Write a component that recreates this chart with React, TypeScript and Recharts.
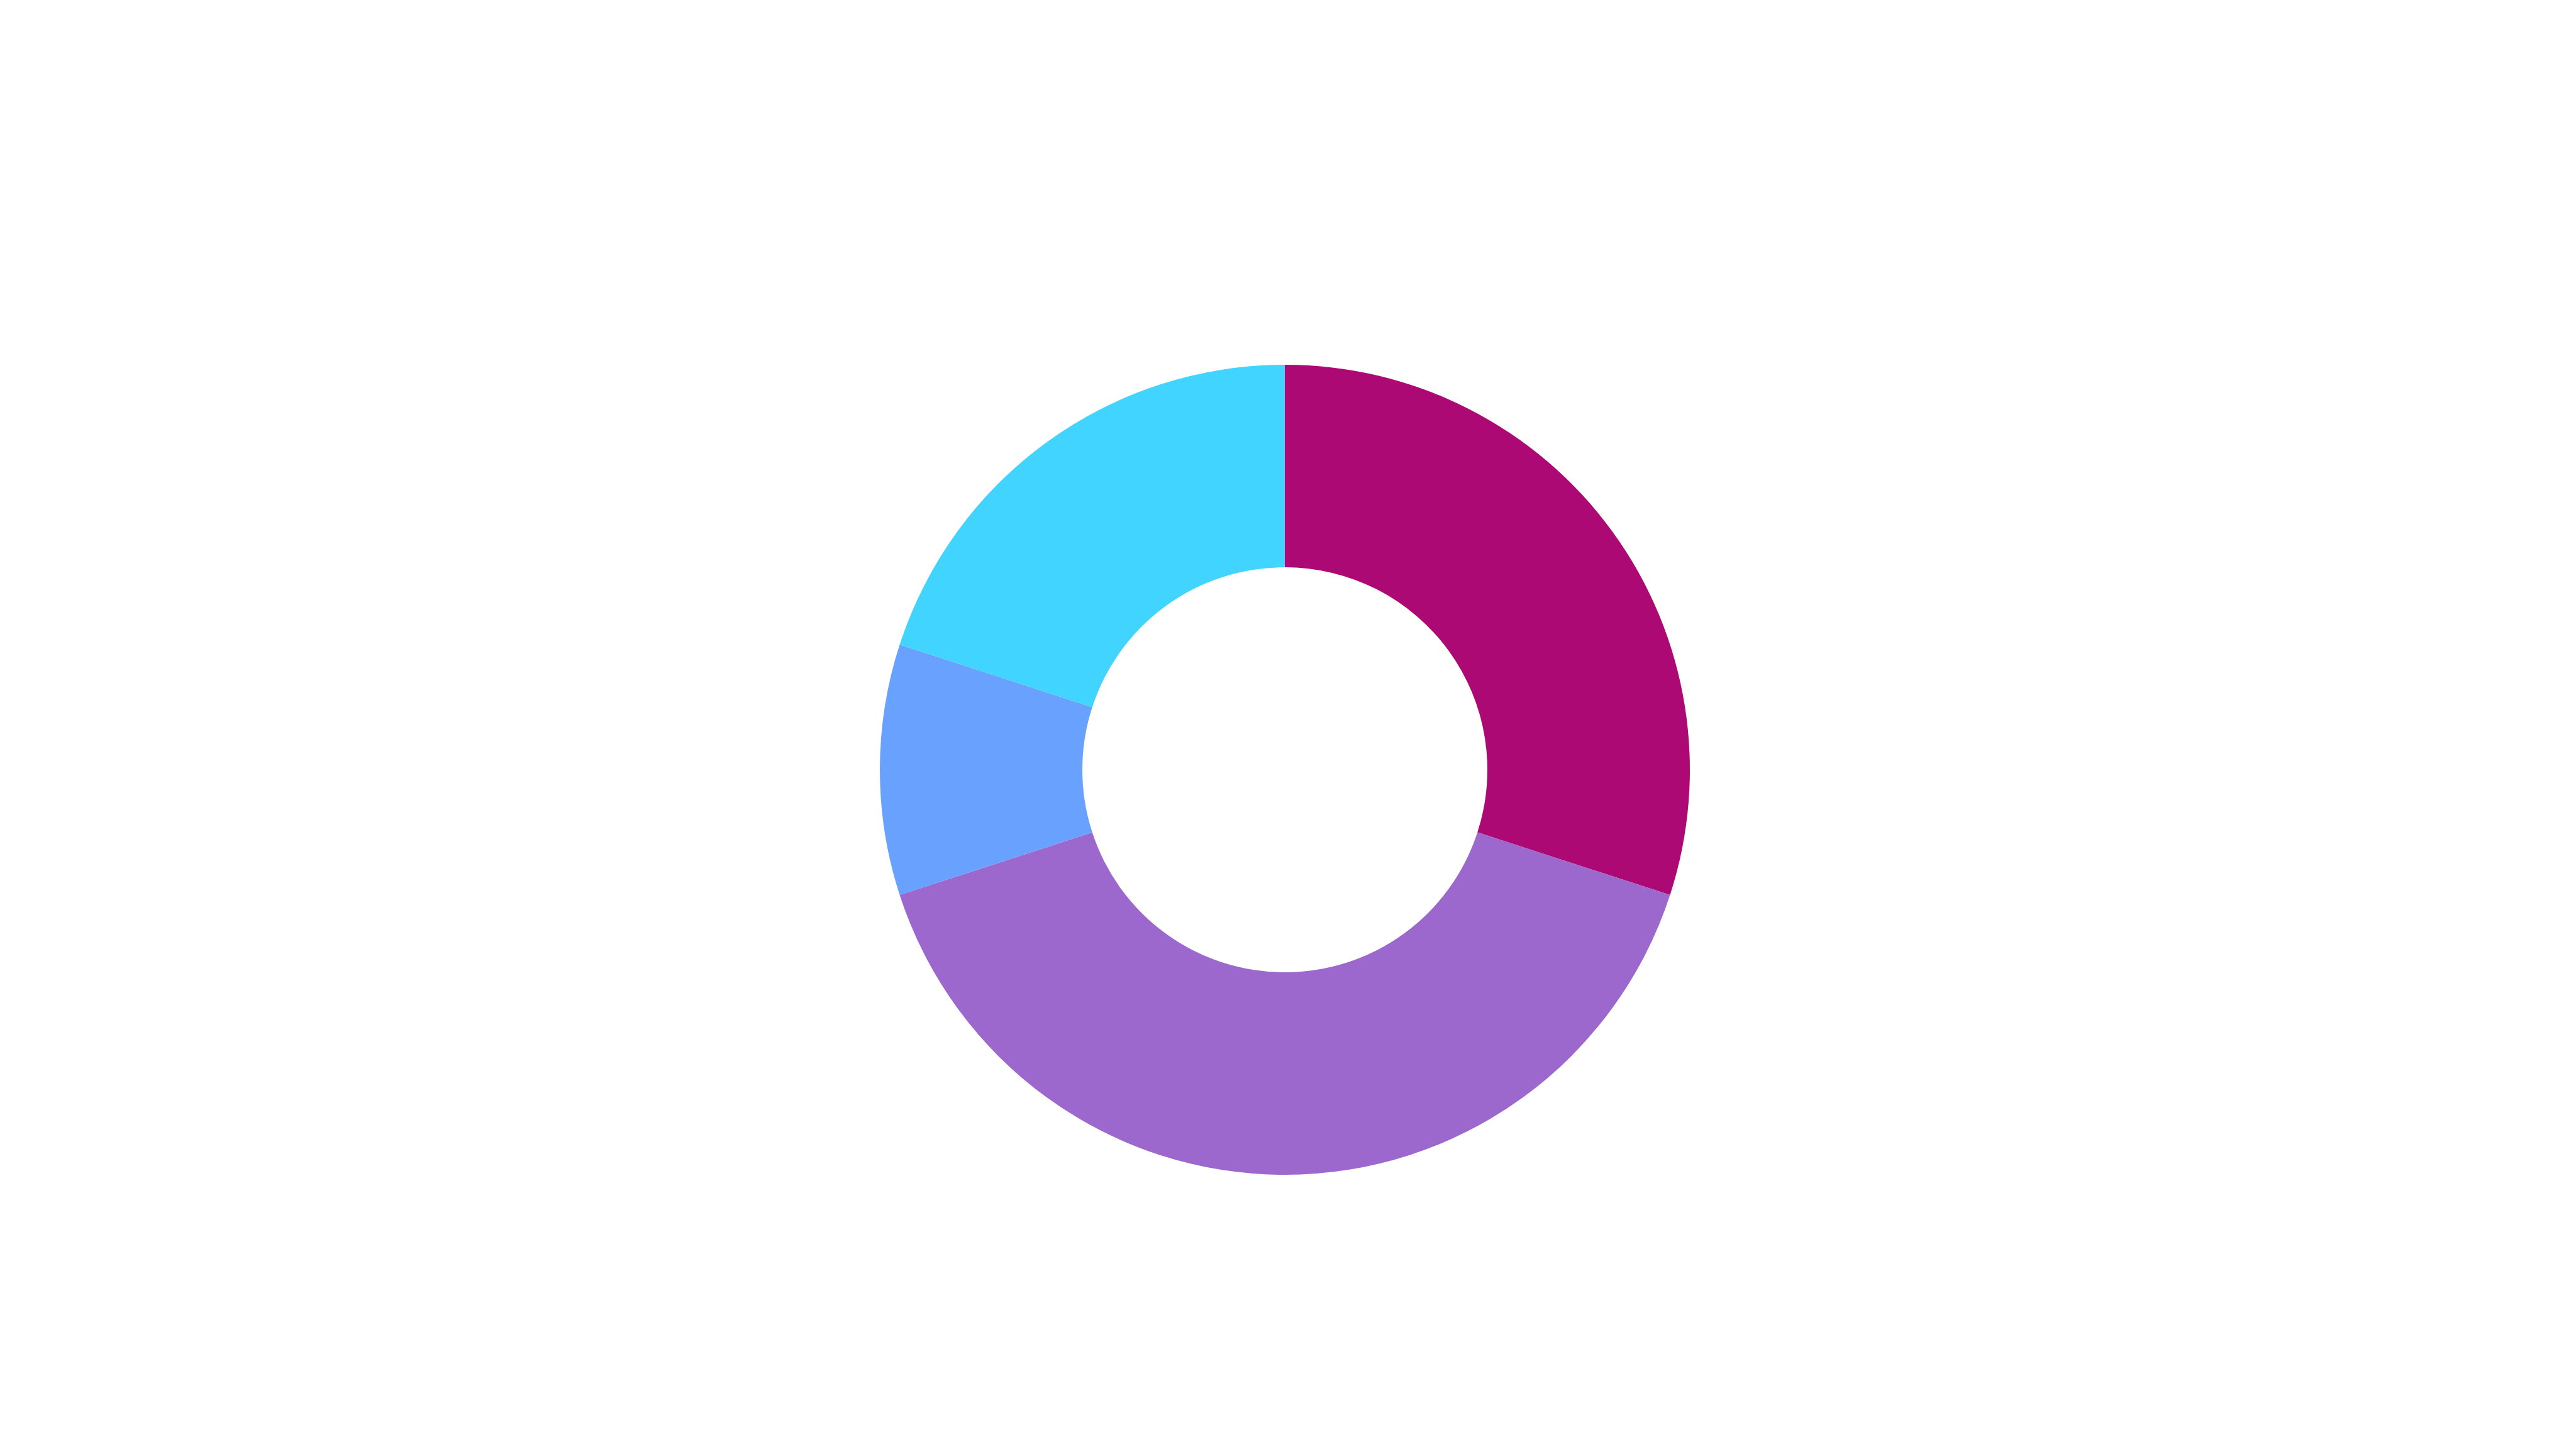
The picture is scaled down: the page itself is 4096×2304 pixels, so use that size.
import { Cell, Pie, PieChart } from "recharts";

// slices in clockwise order, starting at 12 o'clock
const SLICE_NAMES = ["A", "B", "C", "D"];
const SLICE_VALUES = [30, 40, 10, 20];
const SLICE_COLORS = ["#ad0975", "#9d68cd", "#68a2fe", "#41d4ff"];

const WIDTH = 4096;
const HEIGHT = 2304;

const data = SLICE_NAMES.map((name, i) => ({ name, value: SLICE_VALUES[i] }));

export default function App() {
  return (
    <div
      style={{
        position: "fixed",
        top: 0,
        left: 0,
        width: WIDTH,
        height: HEIGHT,
        background: "#fff",
      }}
    >
      {/* zero margin so cx/cy are page pixels */}
      <PieChart
        width={WIDTH}
        height={HEIGHT}
        margin={{ top: 0, right: 0, bottom: 0, left: 0 }}
        style={{ display: "block" }}
      >
        <Pie
          data={data}
          dataKey="value"
          nameKey="name"
          cx={2043}
          cy={1224}
          innerRadius={322}
          outerRadius={644}
          startAngle={90}
          endAngle={-270}
          stroke="none"
          isAnimationActive={false}
        >
          {data.map((_, i) => (
            <Cell key={i} fill={SLICE_COLORS[i]} />
          ))}
        </Pie>
      </PieChart>
    </div>
  );
}
